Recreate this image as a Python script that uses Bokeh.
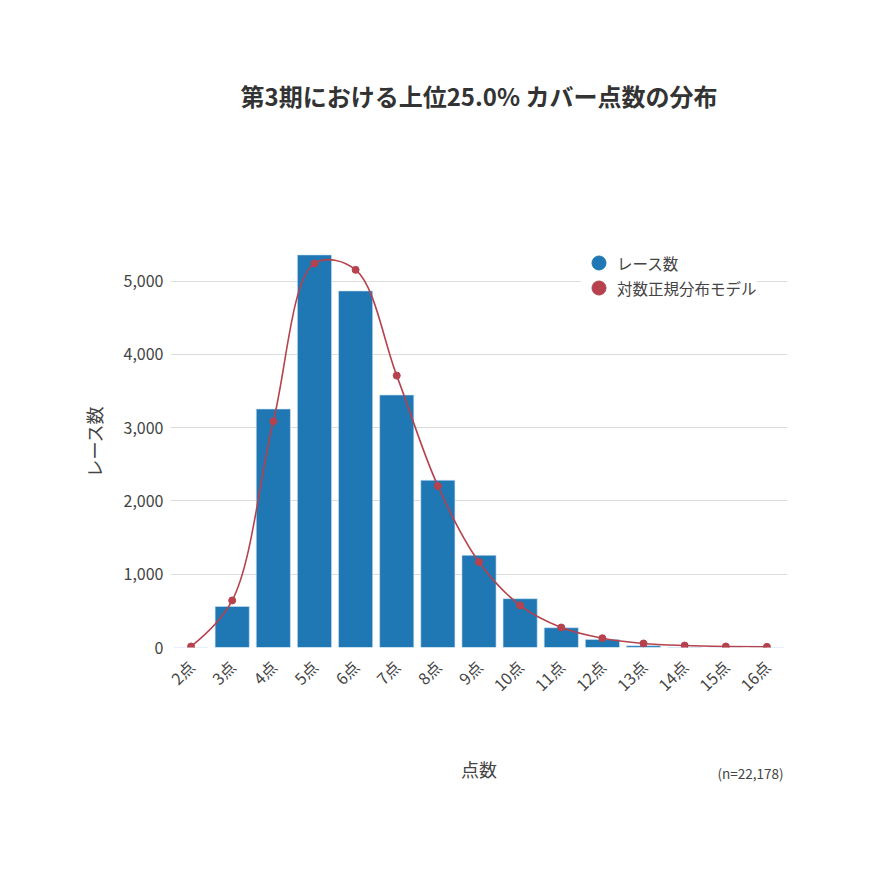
import numpy as np
from bokeh.plotting import figure
from bokeh.models import (Range1d, FixedTicker, NumeralTickFormatter, LinearAxis,
                          Legend, LegendItem, ColumnDataSource)
from bokeh.embed import file_html
from bokeh.resources import INLINE

# ---- data ----
categories = ["2点", "3点", "4点", "5点", "6点", "7点", "8点", "9点",
              "10点", "11点", "12点", "13点", "14点", "15点", "16点"]
race_counts = [0, 560, 3255, 5358, 4866, 3446, 2283, 1258, 666, 270, 110, 24, 3, 1, 0]
model_values = [14, 642, 3087, 5242, 5154, 3711, 2204, 1166, 574, 273, 127, 55, 27, 14, 9]
y_ticks = [0, 1000, 2000, 3000, 4000, 5000]
title_text = "第3期における上位25.0% カバー点数の分布"
n_note = "(n=22,178)"

FONT = "Noto Sans CJK JP"
BLUE = "#1f77b4"
RED = "#b5424d"
TXT = "#444444"

xs = list(range(len(categories)))
Y_MAX = 5623
NOTE_POS = 13.6  # horizontal anchor (in category units) of the sample-size note

p = figure(width=854, height=854, output_backend="svg", toolbar_location=None,
           x_range=Range1d(-0.5, len(categories) - 0.5), y_range=Range1d(0, Y_MAX),
           min_border_left=170, min_border_right=67, min_border_top=235, min_border_bottom=207)
p.outline_line_color = None
p.background_fill_color = "white"
p.border_fill_color = "white"

main_x = p.xaxis[0]
main_y = p.yaxis[0]

# grid
p.xgrid.grid_line_color = None
p.ygrid.grid_line_color = "#dcdcdc"
p.ygrid.grid_line_width = 1
main_y.ticker = FixedTicker(ticks=y_ticks)
p.ygrid.ticker = FixedTicker(ticks=y_ticks)

# axes
main_x.ticker = FixedTicker(ticks=xs)
main_x.major_label_overrides = {i: c for i, c in enumerate(categories)}
main_x.major_label_orientation = np.pi / 4
main_y.formatter = NumeralTickFormatter(format="0,0")
for ax in (main_x, main_y):
    ax.axis_line_color = None
    ax.major_tick_line_color = None
    ax.minor_tick_line_color = None
    ax.major_tick_out = 0
    ax.major_tick_in = 0
    ax.major_label_text_font = FONT
    ax.major_label_text_font_size = "16px"
    ax.major_label_text_color = TXT
    ax.axis_label_text_font = FONT
    ax.axis_label_text_font_size = "18px"
    ax.axis_label_text_font_style = "normal"
    ax.axis_label_text_color = TXT
main_x.major_label_standoff = 16
main_y.major_label_standoff = 7
main_x.axis_label = "点数"
main_y.axis_label = "レース数"
main_x.axis_label_standoff = 49
main_y.axis_label_standoff = 14

# title (as the label of a bare axis above the plot)
title_axis = LinearAxis(ticker=FixedTicker(ticks=[]), axis_line_color=None,
                        major_tick_out=0, major_tick_in=0, minor_tick_out=0, minor_tick_in=0,
                        major_label_standoff=0, axis_label=title_text,
                        axis_label_text_font=FONT, axis_label_text_font_size="24px",
                        axis_label_text_font_style="bold", axis_label_text_color="#333333",
                        axis_label_standoff=123)
p.add_layout(title_axis, "above")

# sample-size note (a single labelled position on a bare axis below the plot)
note_axis = LinearAxis(ticker=FixedTicker(ticks=[NOTE_POS]), axis_line_color=None,
                       major_tick_line_color=None, minor_tick_line_color=None,
                       major_tick_out=0, major_tick_in=0, minor_tick_out=0, minor_tick_in=0,
                       major_label_overrides={NOTE_POS: n_note}, major_label_standoff=-23,
                       major_label_text_font=FONT, major_label_text_font_size="13.5px",
                       major_label_text_color=TXT)
p.add_layout(note_axis, "below")

# bars
src = ColumnDataSource(dict(x=xs, top=race_counts))
p.vbar(x="x", top="top", width=0.83, source=src, fill_color=BLUE,
       line_color="#cfe3f3", line_width=0.6)

# smooth model curve (plotly-like centripetal spline through the model points)
SX, SY = 41.12, 0.07327
pts = np.array([[x * SX, v * SY] for x, v in zip(xs, model_values)])

def tangent(prev, this, nxt, s=1.0):
    d1 = prev - this
    d2 = nxt - this
    d1a = np.hypot(*d1) ** 0.5
    d2a = np.hypot(*d2) ** 0.5
    num = (d2a * d2a * d1 - d1a * d1a * d2) * s
    den1 = 3 * d2a * (d1a + d2a)
    den2 = 3 * d1a * (d1a + d2a)
    return this + num / den1, this - num / den2

tans = [tangent(pts[i - 1], pts[i], pts[i + 1]) for i in range(1, len(pts) - 1)]
def to_data(pt):
    return pt[0] / SX, pt[1] / SY

bz = dict(x0=[], y0=[], x1=[], y1=[], cx0=[], cy0=[], cx1=[], cy1=[])
def add_cubic(p0, c0, c1, p1):
    for k, pt in (("0", p0), ("1", p1)):
        dx, dy = to_data(pt)
        bz["x" + k].append(dx); bz["y" + k].append(dy)
    for k, pt in (("0", c0), ("1", c1)):
        dx, dy = to_data(pt)
        bz["cx" + k].append(dx); bz["cy" + k].append(dy)

q = tans[0][0]
add_cubic(pts[0], pts[0] + 2 / 3 * (q - pts[0]), pts[1] + 2 / 3 * (q - pts[1]), pts[1])
for i in range(2, len(pts) - 1):
    add_cubic(pts[i - 1], tans[i - 2][1], tans[i - 1][0], pts[i])
q = tans[-1][1]
n = len(pts) - 1
add_cubic(pts[n - 1], pts[n - 1] + 2 / 3 * (q - pts[n - 1]), pts[n] + 2 / 3 * (q - pts[n]), pts[n])
p.bezier(source=ColumnDataSource(bz), x0="x0", y0="y0", x1="x1", y1="y1",
         cx0="cx0", cy0="cy0", cx1="cx1", cy1="cy1", line_color=RED, line_width=1.6)
p.scatter(xs, model_values, size=7, color=RED)

# legend (circle markers; hidden renderers used only as legend glyphs)
leg_blue = p.scatter(xs, race_counts, color=BLUE, visible=False)
leg_red = p.scatter(xs, model_values, color=RED, visible=False)

def one_legend(label, renderer, loc):
    return Legend(items=[LegendItem(label=label, renderers=[renderer])],
                  location=loc, label_text_font=FONT, label_text_font_size="15.5px",
                  label_text_color=TXT, border_line_color=None,
                  background_fill_color="white", background_fill_alpha=1.0,
                  glyph_width=35, glyph_height=35, spacing=0, padding=6, margin=0,
                  label_standoff=1, click_policy="none", inactive_fill_alpha=0.0)

p.add_layout(one_legend("対数正規分布モデル", leg_red, (411, 342)))
p.add_layout(one_legend("レース数", leg_blue, (411, 367)))

open("out.html", "w").write(file_html(p, INLINE))
